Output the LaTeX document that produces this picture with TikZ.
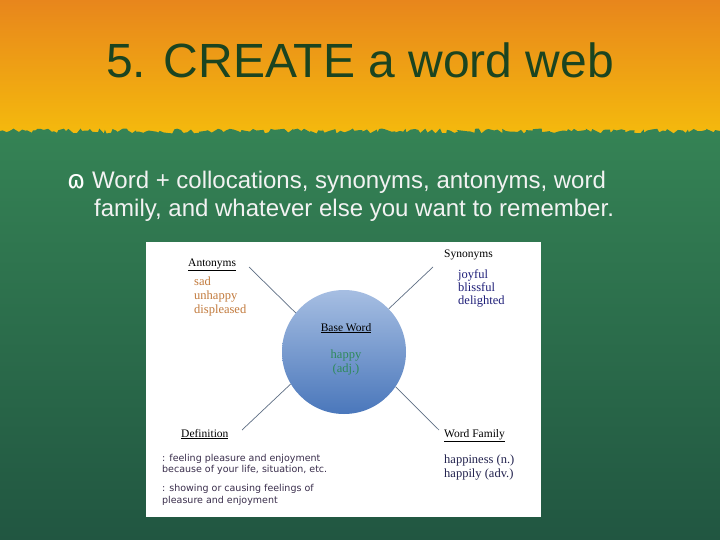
\documentclass[tikz,border=0pt]{standalone}
\usepackage{fontspec}
\setmainfont{Liberation Sans}
\newfontfamily\webserif{Liberation Serif}
\newfontfamily\websans{DejaVu Sans}
\usetikzlibrary{decorations.pathmorphing}

\definecolor{bgorange}{HTML}{E8861C}
\definecolor{bgyellow}{HTML}{F5BC0C}
\definecolor{bggreen}{HTML}{358355}
\definecolor{bgdark}{HTML}{215641}
\definecolor{titlegreen}{HTML}{1B4420}
\definecolor{circtop}{HTML}{A6BEE2}
\definecolor{circbot}{HTML}{4A77BB}
\definecolor{webline}{HTML}{5E6E84}
\definecolor{antcolor}{HTML}{C27A3C}
\definecolor{syncolor}{HTML}{1E1E78}
\definecolor{basecolor}{HTML}{2E8A5A}
\definecolor{defcolor}{HTML}{3A2E4C}
\definecolor{famcolor}{HTML}{22224E}

\tikzset{
  head/.style={font=\webserif\fontsize{11.5}{13}\selectfont, inner sep=0, anchor=base west},
  item/.style={font=\webserif\fontsize{12.5}{14}\selectfont, inner sep=0, anchor=base west},
  defline/.style={font=\websans\fontsize{9.5}{11}\selectfont, text=defcolor, inner sep=0, anchor=base west},
  spoke/.style={draw=webline, line width=0.7pt}
}

\begin{document}
\begin{tikzpicture}[x=1pt,y=-1pt]
  \useasboundingbox (0,0) rectangle (720,540);

  % Background: orange-yellow band and torn green area
  \shade[top color=bgorange, bottom color=bgyellow] (0,0) rectangle (720,140);
  \pgfmathsetseed{7}
  \shade[top color=bggreen, bottom color=bgdark,
    decoration={random steps, segment length=3pt, amplitude=2.5pt}]
    (0,540) -- (0,131) decorate {-- (720,131)} -- (720,540) -- cycle;

  % Title and bullet text
  \node[font=\fontsize{48}{56}\selectfont, text=titlegreen, inner sep=0, anchor=base] (title) at (360,78) {5. CREATE a word web};
  \node[font=\websans\fontsize{25}{28}\selectfont, text=white, inner sep=0, anchor=base west] (bullet) at (67,189) {ɷ};
  \node[font=\fontsize{24}{29}\selectfont, text=white!95!black, inner sep=0, anchor=base west] (line1) at (92,189) {Word + collocations, synonyms, antonyms, word};
  \node[font=\fontsize{24}{29}\selectfont, text=white!95!black, inner sep=0, anchor=base west] (line2) at (94,217) {family, and whatever else you want to remember.};

  % Word web picture
  \fill[white] (146,242) rectangle (541,517);
  \node[circle, minimum size=124pt, inner sep=0, top color=circtop, bottom color=circbot] (base) at (344,352) {};
  \node[head, anchor=base] (basehead) at (346,331) {\underline{Base Word}};
  \node[item, anchor=base, text=basecolor] (happy) at (346,358) {happy};
  \node[item, anchor=base, text=basecolor] (adj) at (346,372) {(adj.)};

  % Antonyms
  \node[head] (anthead) at (188,266) {\underline{Antonyms}};
  \foreach \w [count=\i] in {sad,unhappy,displeased}
    \node[item, text=antcolor] (ant\i) at (194,271+14*\i) {\w};

  % Synonyms
  \node[head] (synhead) at (444,258) {Synonyms};
  \foreach \w [count=\i] in {joyful,blissful,delighted}
    \node[item, text=syncolor] (syn\i) at (458,265+13*\i) {\w};

  % Definition
  \node[head] (defhead) at (181,437) {\underline{Definition}};
  \node[defline] (def1) at (162,461) {: feeling pleasure and enjoyment};
  \node[defline] (def2) at (162,472) {because of your life, situation, etc.};
  \node[defline] (def3) at (162,491) {: showing or causing feelings of};
  \node[defline] (def4) at (162,503) {pleasure and enjoyment};

  % Word family
  \node[head] (famhead) at (444,437) {\underline{Word Family}};
  \node[item, text=famcolor] (fam1) at (444,463) {happiness (n.)};
  \node[item, text=famcolor] (fam2) at (444,477) {happily (adv.)};

  % Spokes
  \coordinate (antend) at (249,267);
  \coordinate (synend) at (433,267);
  \coordinate (defend) at (242,430);
  \coordinate (famend) at (439,430);
  \draw[spoke] (antend) -- (base.141);
  \draw[spoke] (synend) -- (base.44);
  \draw[spoke] (defend) -- (base.211);
  \draw[spoke] (famend) -- (base.326);
\end{tikzpicture}
\end{document}
